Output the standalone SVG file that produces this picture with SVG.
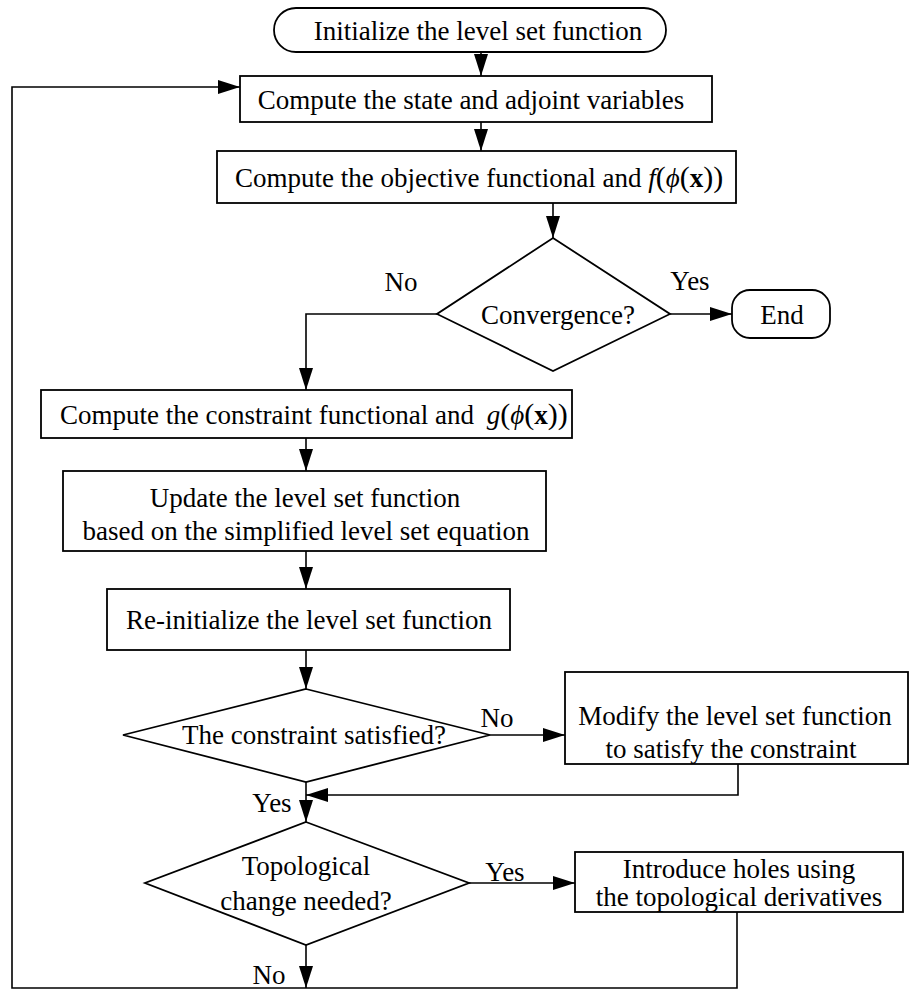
<svg xmlns="http://www.w3.org/2000/svg" width="909" height="1002" viewBox="0 0 909 1002">
<style>
.s{fill:#fff;stroke:#000;stroke-width:1.8}
.c{fill:none;stroke:#000;stroke-width:1.6}
text{font-family:"Liberation Serif","Times New Roman",serif;font-size:27px;fill:#000}
.m{text-anchor:middle}
.i{font-style:italic}
.b{font-weight:bold}
.p{font-size:30px}
</style>
<defs>
<marker id="a" markerUnits="userSpaceOnUse" markerWidth="24" markerHeight="16" refX="22" refY="8" orient="auto">
<path d="M0,1 L22,8 L0,15 Z" fill="#000"/>
</marker>
</defs>
<g id="connectors">
<path class="c" d="M481,52 V76" marker-end="url(#a)"/>
<path class="c" d="M481,122 V151" marker-end="url(#a)"/>
<path class="c" d="M553,203 V238" marker-end="url(#a)"/>
<path class="c" d="M670,314 H732" marker-end="url(#a)"/>
<path class="c" d="M437,314 H306 V390" marker-end="url(#a)"/>
<path class="c" d="M306,438 V471" marker-end="url(#a)"/>
<path class="c" d="M306,551 V589" marker-end="url(#a)"/>
<path class="c" d="M306,650 V689" marker-end="url(#a)"/>
<path class="c" d="M490,735 H565" marker-end="url(#a)"/>
<path class="c" d="M738,764 V795 H306" marker-end="url(#a)"/>
<path class="c" d="M306,782 V822" marker-end="url(#a)"/>
<path class="c" d="M469,883 H575" marker-end="url(#a)"/>
<path class="c" d="M306,945 V988" marker-end="url(#a)"/>
<path class="c" d="M737,912 V988 H12 V87 H240" marker-end="url(#a)"/>
<text x="401" y="291" class="m">No</text>
<text x="690" y="290" class="m">Yes</text>
<text x="497" y="727" class="m">No</text>
<text x="272" y="812" class="m">Yes</text>
<text x="505" y="881" class="m">Yes</text>
<text x="269" y="984" class="m">No</text>
</g>
<g id="start">
<rect class="s" x="274" y="8" width="392" height="44" rx="22"/>
<text x="478" y="40" class="m">Initialize the level set function</text>
</g>
<g id="state">
<rect class="s" x="240" y="76" width="472" height="46"/>
<text x="471" y="109" class="m">Compute the state and adjoint variables</text>
</g>
<g id="objective">
<rect class="s" x="217" y="151" width="519" height="52"/>
<text x="235" y="187">Compute the objective functional and <tspan class="i">f</tspan><tspan class="p">(</tspan><tspan class="i">ϕ</tspan><tspan class="p">(</tspan><tspan class="b">x</tspan><tspan class="p">))</tspan></text>
</g>
<g id="convergence">
<polygon class="s" points="553,238 670,314 553,371 437,314"/>
<text x="558" y="324" class="m">Convergence?</text>
</g>
<g id="end">
<rect class="s" x="732" y="290" width="98" height="48" rx="18"/>
<text x="782" y="324" class="m">End</text>
</g>
<g id="constraint">
<rect class="s" x="41" y="390" width="531" height="48"/>
<text x="60" y="424">Compute the constraint functional and <tspan class="i" dx="6">g</tspan><tspan class="p">(</tspan><tspan class="i">ϕ</tspan><tspan class="p">(</tspan><tspan class="b">x</tspan><tspan class="p">))</tspan></text>
</g>
<g id="update">
<rect class="s" x="63" y="471" width="483" height="80"/>
<text x="305" y="507" class="m">Update the level set function</text>
<text x="306" y="540" class="m">based on the simplified level set equation</text>
</g>
<g id="reinit">
<rect class="s" x="107" y="589" width="403" height="61"/>
<text x="309" y="629" class="m">Re-initialize the level set function</text>
</g>
<g id="satisfied">
<polygon class="s" points="306,689 490,735 306,782 123,735"/>
<text x="314" y="744" class="m">The constraint satisfied?</text>
</g>
<g id="modify">
<rect class="s" x="565" y="672" width="343" height="92"/>
<text x="735" y="725" class="m">Modify the level set function</text>
<text x="731" y="758" class="m">to satisfy the constraint</text>
</g>
<g id="topological">
<polygon class="s" points="306,822 469,883 306,945 145,883"/>
<text x="306" y="875" class="m">Topological</text>
<text x="306" y="910" class="m">change needed?</text>
</g>
<g id="holes">
<rect class="s" x="575" y="852" width="328" height="60"/>
<text x="739" y="878" class="m">Introduce holes using</text>
<text x="739" y="906" class="m">the topological derivatives</text>
</g>
</svg>
